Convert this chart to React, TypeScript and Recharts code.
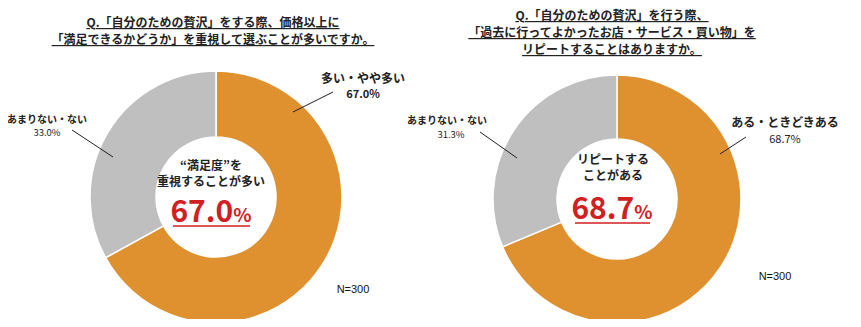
import React from 'react';
import { PieChart, Pie, Cell } from 'recharts';

const leftCategories = ['多い・やや多い', 'あまりない・ない'];
const leftValues = [67.0, 33.0];
const rightCategories = ['ある・ときどきある', 'あまりない・ない'];
const rightValues = [68.7, 31.3];

const leftTitle = ['Q.「自分のための贅沢」をする際、価格以上に', '「満足できるかどうか」を重視して選ぶことが多いですか。'];
const rightTitle = ['Q.「自分のための贅沢」を行う際、', '「過去に行ってよかったお店・サービス・買い物」を', 'リピートすることはありますか。'];
const leftCenter = ['“満足度”を', '重視することが多い'];
const rightCenter = ['リピートする', 'ことがある'];
const sampleLabel = 'N=300';

const COLORS = ['#E0912F', '#BFBFBF'];
const FONT = '"Noto Sans CJK JP", "Noto Sans", sans-serif';
const W = 861;
const H = 327;

const L = { cx: 211, cy: 192, r: 126 };
const R = { cx: 612, cy: 194, r: 124 };

const toRows = (cats: string[], vals: number[]) => cats.map((name, i) => ({ name, value: vals[i] }));
const leftData = toRows(leftCategories, leftValues);
const rightData = toRows(rightCategories, rightValues);

const Title: React.FC<{ lines: string[]; x: number; y0: number; step: number }> = ({ lines, x, y0, step }) => (
  <g>
    {lines.map((t, i) => (
      <text
        key={i}
        x={x}
        y={y0 + i * step}
        textAnchor="middle"
        fontSize={12}
        fontWeight={700}
        fill="#222"
        textDecoration="underline"
        style={{ textDecoration: 'underline' }}
      >
        {t}
      </text>
    ))}
  </g>
);

const Big: React.FC<{ x: number; y: number; value: number; ux1: number; ux2: number; uy: number }> = ({ x, y, value, ux1, ux2, uy }) => (
  <g>
    <text x={x} y={y} textAnchor="middle" fill="#D0201F" fontWeight={700}>
      <tspan fontSize={30}>{value.toFixed(1)}</tspan>
      <tspan fontSize={19}>%</tspan>
    </text>
    <line x1={ux1} x2={ux2} y1={uy} y2={uy} stroke="#D0201F" strokeWidth={1.5} />
  </g>
);

export default function App() {
  return (
    <div style={{ position: 'relative', width: W, height: H, margin: -8, background: '#fff', fontFamily: FONT }}>
      <PieChart width={W} height={H} style={{ position: 'absolute', left: 0, top: 0 }}>
        <Pie
          data={leftData}
          dataKey="value"
          cx={L.cx}
          cy={L.cy}
          innerRadius={60}
          outerRadius={L.r}
          startAngle={90}
          endAngle={-270}
          stroke="#fff"
          strokeWidth={1.5}
          isAnimationActive={false}
        >
          {leftData.map((_, i) => (
            <Cell key={`l-${i}`} fill={COLORS[i]} />
          ))}
        </Pie>
        <Pie
          data={rightData}
          dataKey="value"
          cx={R.cx}
          cy={R.cy}
          innerRadius={60}
          outerRadius={R.r}
          startAngle={90}
          endAngle={-270}
          stroke="#fff"
          strokeWidth={1.5}
          isAnimationActive={false}
        >
          {rightData.map((_, i) => (
            <Cell key={`r-${i}`} fill={COLORS[i]} />
          ))}
        </Pie>
      </PieChart>
      <svg width={W} height={H} style={{ position: 'absolute', left: 0, top: 0, pointerEvents: 'none', fontFamily: FONT }}>
        <Title lines={leftTitle} x={213} y0={27} step={17} />
        <Title lines={rightTitle} x={612} y0={20} step={17} />

        {/* left chart labels */}
        <text x={363} y={83} textAnchor="middle" fontSize={12} fontWeight={700} fill="#222">{leftCategories[0]}</text>
        <text x={363} y={98} textAnchor="middle" fontSize={11} fontWeight={700} fill="#222">{leftValues[0].toFixed(1)}%</text>
        <line x1={333} y1={92} x2={293} y2={112} stroke="#222" strokeWidth={1} />
        <text x={47} y={123} textAnchor="middle" fontSize={10} fontWeight={700} fill="#222">{leftCategories[1]}</text>
        <text x={47} y={136} textAnchor="middle" fontSize={9.5} fill="#222">{leftValues[1].toFixed(1)}%</text>
        <line x1={72} y1={130} x2={113} y2={157} stroke="#222" strokeWidth={1} />

        {leftCenter.map((t, i) => (
          <text key={i} x={211} y={170 + i * 16} textAnchor="middle" fontSize={12} fontWeight={700} fill="#222">{t}</text>
        ))}
        <Big x={211} y={222} value={leftValues[0]} ux1={173} ux2={250} uy={226} />
        <text x={353} y={293} textAnchor="middle" fontSize={11} fontFamily="Arial, Liberation Sans" fill="#111">{sampleLabel}</text>

        {/* right chart labels */}
        <text x={785} y={127} textAnchor="middle" fontSize={12} fontWeight={700} fill="#222">{rightCategories[0]}</text>
        <text x={785} y={143} textAnchor="middle" fontSize={11} fill="#222">{rightValues[0].toFixed(1)}%</text>
        <line x1={746} y1={137} x2={720} y2={154} stroke="#222" strokeWidth={1} />
        <text x={447} y={124} textAnchor="middle" fontSize={10} fontWeight={700} fill="#222">{rightCategories[1]}</text>
        <text x={451} y={138} textAnchor="middle" fontSize={9.5} fill="#222">{rightValues[1].toFixed(1)}%</text>
        <line x1={480} y1={132} x2={517} y2={158} stroke="#222" strokeWidth={1} />

        {rightCenter.map((t, i) => (
          <text key={i} x={613} y={164 + i * 16} textAnchor="middle" fontSize={12} fontWeight={700} fill="#222">{t}</text>
        ))}
        <Big x={612} y={219} value={rightValues[0]} ux1={575} ux2={650} uy={223} />
        <text x={775} y={280} textAnchor="middle" fontSize={11} fontFamily="Arial, Liberation Sans" fill="#111">{sampleLabel}</text>
      </svg>
    </div>
  );
}
